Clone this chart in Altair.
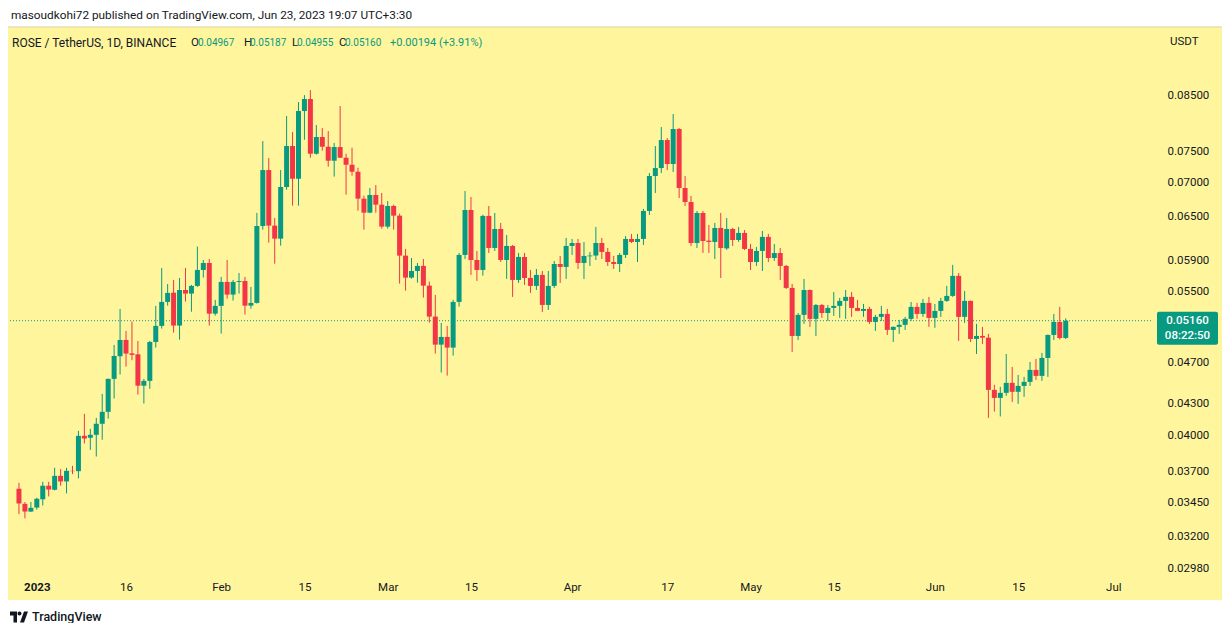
import altair as alt
import pandas as pd
import numpy as np

START_DATE = "2022-12-29"

OPEN = [0.03558, 0.03441, 0.03383, 0.03413, 0.03476, 0.03582, 0.03550, 0.03661, 0.03616, 0.03702,
        0.03699, 0.04000, 0.03983, 0.04009, 0.04108, 0.04218, 0.04537, 0.04770, 0.04945, 0.04800,
        0.04790, 0.04469, 0.04517, 0.04923, 0.05101, 0.05379, 0.05490, 0.05105, 0.05523, 0.05479,
        0.05573, 0.05773, 0.05863, 0.05241, 0.05332, 0.05622, 0.05467, 0.05622, 0.05634, 0.05335,
        0.05367, 0.06363, 0.07201, 0.06368, 0.06187, 0.06936, 0.07594, 0.07064, 0.08205, 0.08426,
        0.07466, 0.07747, 0.07582, 0.07351, 0.07577, 0.07400, 0.07286, 0.07174, 0.06759, 0.06553,
        0.06814, 0.06670, 0.06354, 0.06651, 0.06510, 0.05959, 0.05676, 0.05760, 0.05825, 0.05576,
        0.05207, 0.04894, 0.04978, 0.04862, 0.05379, 0.05968, 0.06592, 0.05902, 0.05773, 0.06506,
        0.06061, 0.06321, 0.05902, 0.06088, 0.05647, 0.05942, 0.05672, 0.05573, 0.05710, 0.05343,
        0.05573, 0.05850, 0.05812, 0.06088, 0.06128, 0.05863, 0.05950, 0.05960, 0.06128, 0.06008,
        0.05876, 0.05850, 0.05968, 0.06183, 0.06142, 0.06183, 0.06578, 0.07107, 0.07233, 0.07695,
        0.07298, 0.07885, 0.06921, 0.06710, 0.06128, 0.06549, 0.06160, 0.06142, 0.06335, 0.06055,
        0.06321, 0.06169, 0.06266, 0.06048, 0.05876, 0.06021, 0.06211, 0.05928, 0.05994, 0.05825,
        0.05548, 0.04989, 0.05227, 0.05523, 0.05181, 0.05343, 0.05249, 0.05308, 0.05332, 0.05391,
        0.05439, 0.05308, 0.05273, 0.05296, 0.05146, 0.05204, 0.05238, 0.05056, 0.05090, 0.05113,
        0.05181, 0.05320, 0.05238, 0.05367, 0.05192, 0.05273, 0.05391, 0.05451, 0.05698, 0.05204,
        0.05391, 0.04956, 0.04989, 0.04970, 0.04428, 0.04350, 0.04399, 0.04497, 0.04409, 0.04467,
        0.04507, 0.04628, 0.04567, 0.04752, 0.05000, 0.05146, 0.04967]

HIGH = [0.03605, 0.03455, 0.03455, 0.03488, 0.03613, 0.03613, 0.03727, 0.03716, 0.03727, 0.03743,
        0.04044, 0.04199, 0.04062, 0.04162, 0.04389, 0.04540, 0.04891, 0.05296, 0.05045, 0.05150,
        0.04934, 0.04537, 0.04934, 0.05332, 0.05799, 0.05597, 0.05647, 0.05672, 0.05799, 0.05585,
        0.06080, 0.05902, 0.05915, 0.05403, 0.05685, 0.05902, 0.05647, 0.05735, 0.05685, 0.05560,
        0.06549, 0.07678, 0.07395, 0.06477, 0.07201, 0.08115, 0.07833, 0.08370, 0.08500, 0.08595,
        0.07955, 0.07902, 0.07850, 0.07645, 0.08297, 0.07466, 0.07566, 0.07238, 0.06804, 0.06921,
        0.06967, 0.06845, 0.06724, 0.06670, 0.06538, 0.06048, 0.05928, 0.05863, 0.05915, 0.05626,
        0.05463, 0.05135, 0.05101, 0.05403, 0.05994, 0.06875, 0.06784, 0.06021, 0.06524, 0.06651,
        0.06549, 0.06406, 0.06238, 0.06101, 0.05994, 0.05994, 0.05773, 0.05786, 0.05760, 0.05760,
        0.05889, 0.05955, 0.06197, 0.06183, 0.06183, 0.06142, 0.06008, 0.06349, 0.06197, 0.06061,
        0.05955, 0.05994, 0.06224, 0.06252, 0.06252, 0.06607, 0.07154, 0.07594, 0.07920, 0.07729,
        0.08151, 0.07902, 0.07107, 0.06799, 0.06578, 0.06578, 0.06377, 0.06406, 0.06549, 0.06477,
        0.06335, 0.06349, 0.06307, 0.06115, 0.06075, 0.06293, 0.06252, 0.06115, 0.06061, 0.05838,
        0.05597, 0.05249, 0.05660, 0.05530, 0.05355, 0.05355, 0.05343, 0.05499, 0.05427, 0.05523,
        0.05499, 0.05403, 0.05355, 0.05320, 0.05227, 0.05332, 0.05296, 0.05095, 0.05169, 0.05204,
        0.05379, 0.05367, 0.05415, 0.05439, 0.05355, 0.05427, 0.05573, 0.05838, 0.05735, 0.05511,
        0.05395, 0.05124, 0.05090, 0.05012, 0.04478, 0.04458, 0.04794, 0.04659, 0.04577, 0.04557,
        0.04710, 0.04742, 0.04805, 0.05005, 0.05238, 0.05320, 0.05187]

LOW = [0.03364, 0.03332, 0.03380, 0.03398, 0.03429, 0.03498, 0.03545, 0.03582, 0.03521, 0.03675,
       0.03640, 0.03933, 0.03878, 0.03821, 0.03965, 0.04156, 0.04344, 0.04581, 0.04661, 0.04728,
       0.04382, 0.04296, 0.04439, 0.04862, 0.05071, 0.05335, 0.05026, 0.04948, 0.05383, 0.05264,
       0.05560, 0.05676, 0.05105, 0.05218, 0.05015, 0.05419, 0.05395, 0.05479, 0.05230, 0.05299,
       0.05359, 0.06311, 0.06133, 0.05854, 0.06092, 0.06895, 0.06655, 0.06655, 0.07700, 0.07400,
       0.07450, 0.07515, 0.07255, 0.07097, 0.07395, 0.06819, 0.07111, 0.06582, 0.06311, 0.06545,
       0.06553, 0.06325, 0.06325, 0.06311, 0.05601, 0.05515, 0.05663, 0.05614, 0.05431, 0.05138,
       0.04798, 0.04601, 0.04570, 0.04777, 0.05324, 0.05915, 0.05710, 0.05635, 0.05701, 0.05994,
       0.06021, 0.05876, 0.05660, 0.05439, 0.05610, 0.05585, 0.05487, 0.05523, 0.05261, 0.05284,
       0.05548, 0.05610, 0.05660, 0.05968, 0.05786, 0.05660, 0.05825, 0.05902, 0.05915, 0.05825,
       0.05786, 0.05748, 0.05928, 0.06128, 0.05876, 0.06101, 0.06520, 0.06845, 0.07154, 0.07201,
       0.07170, 0.06769, 0.06651, 0.06088, 0.06061, 0.05994, 0.05994, 0.05915, 0.05672, 0.06034,
       0.06088, 0.06142, 0.06034, 0.05773, 0.05825, 0.05760, 0.05876, 0.05889, 0.05647, 0.05535,
       0.04816, 0.04945, 0.05124, 0.05090, 0.04989, 0.05192, 0.05158, 0.05215, 0.05192, 0.05181,
       0.05204, 0.05270, 0.05204, 0.05124, 0.05045, 0.05158, 0.05000, 0.04923, 0.05012, 0.05056,
       0.05158, 0.05181, 0.05204, 0.05090, 0.05079, 0.05204, 0.05379, 0.05439, 0.04934, 0.05135,
       0.04923, 0.04794, 0.04902, 0.04162, 0.04220, 0.04175, 0.04370, 0.04312, 0.04293, 0.04360,
       0.04467, 0.04527, 0.04517, 0.04557, 0.04945, 0.04950, 0.04955]

CLOSE = [0.03444, 0.03383, 0.03411, 0.03480, 0.03582, 0.03552, 0.03661, 0.03616, 0.03702, 0.03699,
         0.04000, 0.03976, 0.04009, 0.04108, 0.04218, 0.04537, 0.04773, 0.04945, 0.04798, 0.04784,
         0.04469, 0.04517, 0.04923, 0.05101, 0.05379, 0.05487, 0.05105, 0.05523, 0.05479, 0.05573,
         0.05773, 0.05863, 0.05241, 0.05332, 0.05622, 0.05467, 0.05622, 0.05634, 0.05335, 0.05367,
         0.06363, 0.07201, 0.06368, 0.06187, 0.06936, 0.07594, 0.07064, 0.08205, 0.08426, 0.07466,
         0.07747, 0.07582, 0.07351, 0.07577, 0.07400, 0.07286, 0.07174, 0.06759, 0.06553, 0.06814,
         0.06670, 0.06354, 0.06651, 0.06510, 0.05959, 0.05676, 0.05760, 0.05825, 0.05576, 0.05207,
         0.04894, 0.04978, 0.04862, 0.05379, 0.05968, 0.06592, 0.05902, 0.05773, 0.06506, 0.06061,
         0.06321, 0.05902, 0.06088, 0.05647, 0.05942, 0.05672, 0.05573, 0.05710, 0.05343, 0.05573,
         0.05850, 0.05812, 0.06088, 0.06128, 0.05863, 0.05955, 0.05960, 0.06128, 0.06008, 0.05876,
         0.05850, 0.05968, 0.06183, 0.06142, 0.06183, 0.06578, 0.07107, 0.07233, 0.07695, 0.07298,
         0.07885, 0.06921, 0.06710, 0.06128, 0.06549, 0.06155, 0.06142, 0.06335, 0.06061, 0.06321,
         0.06169, 0.06266, 0.06048, 0.05876, 0.06021, 0.06211, 0.05928, 0.05994, 0.05825, 0.05548,
         0.04989, 0.05227, 0.05523, 0.05181, 0.05343, 0.05249, 0.05308, 0.05332, 0.05391, 0.05439,
         0.05308, 0.05273, 0.05296, 0.05146, 0.05204, 0.05238, 0.05056, 0.05090, 0.05113, 0.05181,
         0.05320, 0.05238, 0.05367, 0.05192, 0.05273, 0.05391, 0.05451, 0.05698, 0.05204, 0.05391,
         0.04956, 0.04989, 0.04970, 0.04428, 0.04350, 0.04399, 0.04497, 0.04409, 0.04467, 0.04507,
         0.04628, 0.04567, 0.04752, 0.05000, 0.05146, 0.04966, 0.05160]

X_TICKS = ["2023-01-01", "2023-01-16", "2023-02-01", "2023-02-15", "2023-03-01", "2023-03-15",
           "2023-04-01", "2023-04-17", "2023-05-01", "2023-05-15", "2023-06-01", "2023-06-15",
           "2023-07-01"]
Y_TICKS = [0.0298, 0.032, 0.0345, 0.037, 0.04, 0.043, 0.047, 0.055, 0.059, 0.065, 0.07, 0.075, 0.085]

HEADER_SYMBOL = "ROSE / TetherUS, 1D, BINANCE"
HEADER_LETTERS = ["O", "H", "L", "C"]
HEADER_VALUES = ["0.04967", "0.05187", "0.04955", "0.05160"]
HEADER_CHANGE = "+0.00194 (+3.91%)"
PUBLISHED = "masoudkohi72 published on TradingView.com, Jun 23, 2023 19:07 UTC+3:30"
LAST_LABEL = "0.05160"
COUNTDOWN = "08:22:50"

GREEN = "#089981"
RED = "#F23645"
YELLOW = "#FFF59D"
TEXT = "#131722"
FONT = "Roboto"
W, H = 1142, 545

dates = pd.date_range(START_DATE, periods=len(OPEN), freq="D").strftime("%Y-%m-%d")
df = pd.DataFrame({"date": list(dates), "open": OPEN, "high": HIGH, "low": LOW, "close": CLOSE})
df["dir"] = np.where(df["close"] >= df["open"], "up", "down")


def dt(s, hours=0):
    y, m, d = (int(v) for v in s.split("-"))
    return alt.DateTime(year=y, month=m, date=d, hours=hours, utc=True)


x_scale = alt.Scale(type="utc", domain=[dt("2022-12-28", 8), dt("2023-07-06", 16)])
y_scale = alt.Scale(type="log", domain=[0.02940, 0.09816], nice=False)

x_axis = alt.Axis(
    values=[dt(s) for s in X_TICKS],
    labelExpr="utcdate(datum.value) == 1 ? (utcmonth(datum.value) == 0 ? utcFormat(datum.value, '%Y') : utcFormat(datum.value, '%b')) : utcFormat(datum.value, '%-d')",
    labelFontWeight=alt.condition("utcmonth(datum.value) == 0 && utcdate(datum.value) == 1",
                                  alt.value("bold"), alt.value("normal")),
    title=None, grid=False, domain=False, ticks=False, labelPadding=6, zindex=1,
    labelColor=TEXT, labelFontSize=11.5, labelFont=FONT, labelFlush=False, labelOverlap=False,
)
y_axis = alt.Axis(
    values=Y_TICKS, format=".5f", orient="right", title=None, grid=False, domain=False,
    ticks=False, labelPadding=15, labelColor=TEXT, labelFontSize=11.5, labelFont=FONT, zindex=1,
    labelFlush=False, labelOverlap=False,
)

color = alt.Color("dir:N", scale=alt.Scale(domain=["up", "down"], range=[GREEN, RED]), legend=None)
X = alt.X("date:T", scale=x_scale, axis=x_axis)

one = alt.Data(values=[{}])

bg = alt.Chart(one).mark_rect(color=YELLOW).encode(
    x=alt.value(-2), x2=alt.value(1212), y=alt.value(-3), y2=alt.value(570))
bg_line = alt.Chart(one).mark_rule(color="#d9d3a0", strokeWidth=1).encode(
    x=alt.value(-2), x2=alt.value(1212), y=alt.value(-3))

base = alt.Chart(df)
wick = base.mark_rule(strokeWidth=1).encode(
    x=X, y=alt.Y("low:Q", scale=y_scale, axis=y_axis), y2="high:Q", color=color)
body = base.mark_bar(size=5).encode(
    x=X, y=alt.Y("open:Q", scale=y_scale), y2="close:Q", color=color)

last_df = pd.DataFrame({"price": [CLOSE[-1]], "label": [LAST_LABEL], "timer": [COUNTDOWN]})
last = alt.Chart(last_df)
price_line = last.mark_rule(color=GREEN, strokeDash=[1, 2], strokeWidth=1).encode(
    y=alt.Y("price:Q", scale=y_scale), x=alt.value(0), x2=alt.value(W))
price_box = last.mark_rect(color=GREEN, yOffset=-9, y2Offset=24, cornerRadius=2).encode(
    x=alt.value(1147), x2=alt.value(1208), y=alt.Y("price:Q", scale=y_scale), y2="price:Q")
price_txt = last.mark_text(color="white", fontSize=11.5, font=FONT, fontWeight=500,
                           align="center", baseline="middle").encode(
    x=alt.value(1177.5), y=alt.Y("price:Q", scale=y_scale), text="label:N")
timer_txt = last.mark_text(color="white", fontSize=11.5, font=FONT, fontWeight=500,
                           align="center", baseline="middle", dy=15).encode(
    x=alt.value(1177.5), y=alt.Y("price:Q", scale=y_scale), text="timer:N")


def label(text, x, y, col=TEXT, size=11, weight="normal", align="left"):
    return alt.Chart(one).mark_text(
        text=text, color=col, fontSize=size, font=FONT, fontWeight=weight,
        align=align, baseline="middle").encode(x=alt.value(x), y=alt.value(y))


texts = [
    label(PUBLISHED, 1, -15, size=11.8),
    label(HEADER_SYMBOL, 2, 13, size=12),
    label("USDT", 1160, 12, size=11.5),
    label("TradingView", 22, 587, size=12.5, weight=500),
]
letter_x = [181, 234, 282, 329]
value_dx = [7, 6, 5, 6]
for ltr, val, lx, dx in zip(HEADER_LETTERS, HEADER_VALUES, letter_x, value_dx):
    texts.append(label(ltr, lx, 13, size=11.5))
    texts.append(label(val, lx + dx, 13, col=GREEN, size=10))
texts.append(label(HEADER_CHANGE, 380, 13, col=GREEN, size=11))

logo_path = ("M-9,-5.5 H-2 V5.5 H-5.5 V-1.5 H-9 Z "
             "M-1.5,-3.5 A2,2 0 1,0 2.5,-3.5 A2,2 0 1,0 -1.5,-3.5 Z "
             "M1,5.5 L5,-5.5 H9 L5,5.5 Z")
logo = alt.Chart(one).mark_point(shape=logo_path, size=4, filled=True, color=TEXT, opacity=1, strokeWidth=0).encode(
    x=alt.value(9), y=alt.value(587))

chart = alt.layer(bg, bg_line, price_line, wick, body, price_box, price_txt, timer_txt, logo, *texts).properties(
    width=W, height=H,
    autosize=alt.AutoSizeParams(type="none"),
    padding={"left": 2, "top": 22, "right": 70, "bottom": 48},
).configure_view(stroke=None).configure(background="#ffffff")

chart.save("out.html", embed_options={"renderer": "svg", "actions": False})
